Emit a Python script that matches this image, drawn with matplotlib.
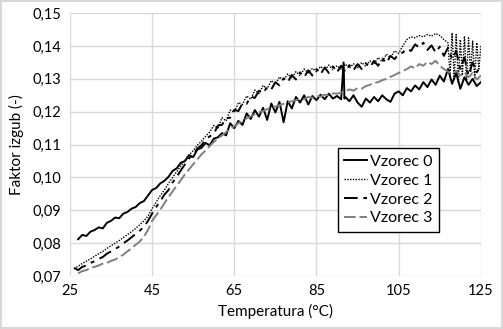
import matplotlib
matplotlib.use("Agg")
import matplotlib.pyplot as plt
from matplotlib.ticker import FuncFormatter, MultipleLocator

# ─────────────────────────────────────────────────────────────────────────────
# DATA
# ─────────────────────────────────────────────────────────────────────────────

t0 = [27, 28, 29, 30, 31, 32, 33, 34, 35, 36, 37, 38, 39, 40, 41, 42, 43, 44,
      45, 46, 47, 48, 49, 50, 51, 52, 53, 54, 55, 56, 57, 58, 59, 60, 61, 62,
      63, 64, 65, 66, 67, 68, 69, 70, 71, 72, 73, 74, 75, 76, 77, 78, 79, 80,
      81, 82, 83, 84, 85, 86, 87, 88, 89, 90, 91, 91.6, 91.8, 92, 93, 94, 95,
      96, 97, 98, 99, 100, 101, 102, 103, 104, 105, 106, 107, 108, 109, 110,
      111, 112, 113, 114, 115, 116, 117, 118, 119, 120, 121, 122, 123, 124, 125]
vzorec0 = [0.0812, 0.0825, 0.0822, 0.0835, 0.0840, 0.0848, 0.0845, 0.0862,
           0.0868, 0.0878, 0.0876, 0.0890, 0.0895, 0.0905, 0.0910, 0.0922,
           0.0928, 0.0945, 0.0962, 0.0968, 0.0982, 0.0990, 0.1002, 0.1020,
           0.1028, 0.1045, 0.1050, 0.1068, 0.1062, 0.1085, 0.1090, 0.1105,
           0.1098, 0.1118, 0.1122, 0.1135, 0.1128, 0.1165, 0.1150, 0.1172,
           0.1160, 0.1195, 0.1178, 0.1205, 0.1185, 0.1212, 0.1175, 0.1225,
           0.1198, 0.1230, 0.1168, 0.1232, 0.1210, 0.1245, 0.1228, 0.1250,
           0.1222, 0.1248, 0.1235, 0.1252, 0.1238, 0.1255, 0.1240, 0.1248,
           0.1238, 0.1350, 0.1240, 0.1245, 0.1232, 0.1250, 0.1228, 0.1215,
           0.1240, 0.1228, 0.1245, 0.1232, 0.1250, 0.1238, 0.1230, 0.1255,
           0.1262, 0.1250, 0.1272, 0.1262, 0.1280, 0.1268, 0.1290, 0.1275,
           0.1298, 0.1282, 0.1310, 0.1292, 0.1330, 0.1285, 0.1318, 0.1270,
           0.1305, 0.1282, 0.1300, 0.1278, 0.1290]

t1 = [26, 27, 28, 29, 30, 31, 32, 33, 34, 35, 36, 37, 38, 39, 40, 41, 42, 43,
      44, 45, 46, 47, 48, 49, 50, 51, 52, 53, 54, 55, 56, 57, 58, 59, 60, 61,
      62, 63, 64, 65, 66, 67, 68, 69, 70, 71, 72, 73, 74, 75, 76, 77, 78, 79,
      80, 81, 82, 83, 84, 85, 86, 87, 88, 89, 90, 91, 92, 93, 94, 95, 96, 97,
      98, 99, 100, 101, 102, 103, 104, 105, 106, 107, 108, 109, 110, 111, 112,
      113, 114, 115, 116, 117, 117.5, 118, 118.5, 119, 119.5, 120, 120.5, 121,
      121.5, 122, 122.5, 123, 123.5, 124, 124.5, 125]
vzorec1 = [0.0722, 0.0730, 0.0738, 0.0745, 0.0752, 0.0760, 0.0768, 0.0775,
           0.0784, 0.0792, 0.0800, 0.0808, 0.0817, 0.0826, 0.0835, 0.0845,
           0.0856, 0.0868, 0.0882, 0.0905, 0.0925, 0.0945, 0.0962, 0.0982,
           0.1000, 0.1018, 0.1035, 0.1052, 0.1068, 0.1082, 0.1098, 0.1110,
           0.1125, 0.1138, 0.1158, 0.1150, 0.1182, 0.1172, 0.1205, 0.1198,
           0.1228, 0.1222, 0.1248, 0.1238, 0.1266, 0.1255, 0.1280, 0.1270,
           0.1295, 0.1284, 0.1306, 0.1295, 0.1315, 0.1302, 0.1322, 0.1310,
           0.1330, 0.1318, 0.1332, 0.1322, 0.1338, 0.1326, 0.1342, 0.1328,
           0.1340, 0.1330, 0.1345, 0.1332, 0.1346, 0.1334, 0.1350, 0.1338,
           0.1355, 0.1345, 0.1365, 0.1352, 0.1375, 0.1365, 0.1385, 0.1378,
           0.1400, 0.1420, 0.1428, 0.1425, 0.1432, 0.1428, 0.1435, 0.1430,
           0.1438, 0.1432, 0.1420, 0.1410, 0.1310, 0.1440, 0.1300, 0.1435,
           0.1290, 0.1420, 0.1310, 0.1430, 0.1295, 0.1425, 0.1320, 0.1415,
           0.1300, 0.1410, 0.1330, 0.1400]

t2 = [26, 27, 28, 29, 30, 31, 32, 33, 34, 35, 36, 37, 38, 39, 40, 41, 42, 43,
      44, 45, 46, 47, 48, 49, 50, 51, 52, 53, 54, 55, 56, 57, 58, 59, 60, 61,
      62, 63, 64, 65, 66, 67, 68, 69, 70, 71, 72, 73, 74, 75, 76, 77, 78, 79,
      80, 81, 82, 83, 84, 85, 86, 87, 88, 89, 90, 91, 92, 93, 94, 95, 96, 97,
      98, 99, 100, 101, 102, 103, 104, 105, 106, 107, 108, 109, 110, 111, 112,
      113, 114, 115, 116, 117, 118, 119, 120, 121, 122, 123, 124, 125]
vzorec2 = [0.0725, 0.0718, 0.0728, 0.0732, 0.0740, 0.0745, 0.0752, 0.0758,
           0.0768, 0.0775, 0.0782, 0.0790, 0.0800, 0.0808, 0.0818, 0.0828,
           0.0838, 0.0850, 0.0868, 0.0890, 0.0910, 0.0928, 0.0948, 0.0962,
           0.0985, 0.1002, 0.1022, 0.1040, 0.1058, 0.1070, 0.1088, 0.1098,
           0.1115, 0.1125, 0.1132, 0.1158, 0.1160, 0.1180, 0.1182, 0.1206,
           0.1202, 0.1226, 0.1224, 0.1246, 0.1242, 0.1264, 0.1256, 0.1276,
           0.1268, 0.1290, 0.1280, 0.1302, 0.1290, 0.1312, 0.1298, 0.1320,
           0.1305, 0.1326, 0.1310, 0.1330, 0.1314, 0.1335, 0.1318, 0.1338,
           0.1320, 0.1340, 0.1322, 0.1342, 0.1326, 0.1345, 0.1330, 0.1348,
           0.1335, 0.1355, 0.1340, 0.1362, 0.1348, 0.1370, 0.1360, 0.1375,
           0.1380, 0.1392, 0.1385, 0.1405, 0.1395, 0.1410, 0.1388, 0.1402,
           0.1380, 0.1398, 0.1370, 0.1395, 0.1360, 0.1385, 0.1330, 0.1365,
           0.1310, 0.1350, 0.1320, 0.1340]

t3 = [27, 28, 29, 30, 31, 32, 33, 34, 35, 36, 37, 38, 39, 40, 41, 42, 43, 44,
      45, 46, 47, 48, 49, 50, 51, 52, 53, 54, 55, 56, 57, 58, 59, 60, 61, 62,
      63, 64, 65, 66, 67, 68, 69, 70, 71, 72, 73, 74, 75, 76, 77, 78, 79, 80,
      81, 82, 83, 84, 85, 86, 87, 88, 89, 90, 91, 92, 93, 94, 95, 96, 97, 98,
      99, 100, 101, 102, 103, 104, 105, 106, 107, 108, 109, 110, 111, 112,
      113, 114, 115, 116, 117, 118, 119, 120, 121, 122, 123, 124, 125]
vzorec3 = [0.0708, 0.0715, 0.0718, 0.0725, 0.0728, 0.0732, 0.0738, 0.0740,
           0.0746, 0.0750, 0.0758, 0.0765, 0.0775, 0.0785, 0.0795, 0.0805,
           0.0820, 0.0840, 0.0868, 0.0885, 0.0902, 0.0922, 0.0940, 0.0958,
           0.0975, 0.0992, 0.1010, 0.1025, 0.1040, 0.1055, 0.1070, 0.1082,
           0.1095, 0.1108, 0.1118, 0.1128, 0.1138, 0.1148, 0.1156, 0.1165,
           0.1172, 0.1180, 0.1186, 0.1192, 0.1198, 0.1202, 0.1208, 0.1212,
           0.1216, 0.1220, 0.1224, 0.1228, 0.1232, 0.1235, 0.1240, 0.1238,
           0.1245, 0.1242, 0.1248, 0.1246, 0.1252, 0.1250, 0.1256, 0.1255,
           0.1258, 0.1262, 0.1268, 0.1264, 0.1272, 0.1270, 0.1278, 0.1282,
           0.1288, 0.1290, 0.1296, 0.1300, 0.1306, 0.1312, 0.1318, 0.1324,
           0.1330, 0.1338, 0.1332, 0.1345, 0.1340, 0.1352, 0.1345, 0.1355,
           0.1340, 0.1330, 0.1322, 0.1315, 0.1325, 0.1310, 0.1320, 0.1305,
           0.1318, 0.1298, 0.1310]

labels = ["Vzorec 0", "Vzorec 1", "Vzorec 2", "Vzorec 3"]
x_ticks = [25, 45, 65, 85, 105, 125]

# ─────────────────────────────────────────────────────────────────────────────
# PLOT
# ─────────────────────────────────────────────────────────────────────────────

plt.rcParams["font.family"] = ["Lato", "DejaVu Sans"]

fig = plt.figure(figsize=(5.03, 3.29), dpi=100)
fig.patch.set_edgecolor("#d9d9d9")
fig.patch.set_linewidth(1.5)
ax = fig.add_axes([0.139, 0.161, 0.817, 0.799])

ax.plot(t0, vzorec0, color="black", lw=1.4, label=labels[0])
ax.plot(t1, vzorec1, color="black", lw=1.0, linestyle=(0, (1, 1)), label=labels[1])
ax.plot(t2, vzorec2, color="black", lw=1.4, linestyle=(0, (7, 3, 2, 3)), label=labels[2])
ax.plot(t3, vzorec3, color="#7f7f7f", lw=1.4, linestyle=(0, (6, 2)), label=labels[3])

ax.set_xlim(25, 125)
ax.set_ylim(0.07, 0.15)
ax.set_xticks(x_ticks)
ax.yaxis.set_major_locator(MultipleLocator(0.01))
ax.yaxis.set_major_formatter(FuncFormatter(lambda v, _: f"{v:.2f}".replace(".", ",")))
ax.tick_params(length=0, labelsize=10.5, pad=6)

ax.grid(True, color="#d9d9d9", lw=1)
ax.set_axisbelow(True)
for s in ax.spines.values():
    s.set_visible(False)

ax.set_xlabel("Temperatura (°C)", fontsize=11, labelpad=4)
ax.set_ylabel("Faktor izgub (-)", fontsize=11, labelpad=6)

leg = ax.legend(loc="upper left", bbox_to_anchor=(0.652, 0.487), borderaxespad=0,
                fancybox=False, edgecolor="black", framealpha=1, fontsize=11.5,
                handlelength=1.4, handletextpad=0.2, labelspacing=0.3,
                borderpad=0.4)
leg.get_frame().set_linewidth(1.0)

fig.savefig("out.png", dpi=100)
